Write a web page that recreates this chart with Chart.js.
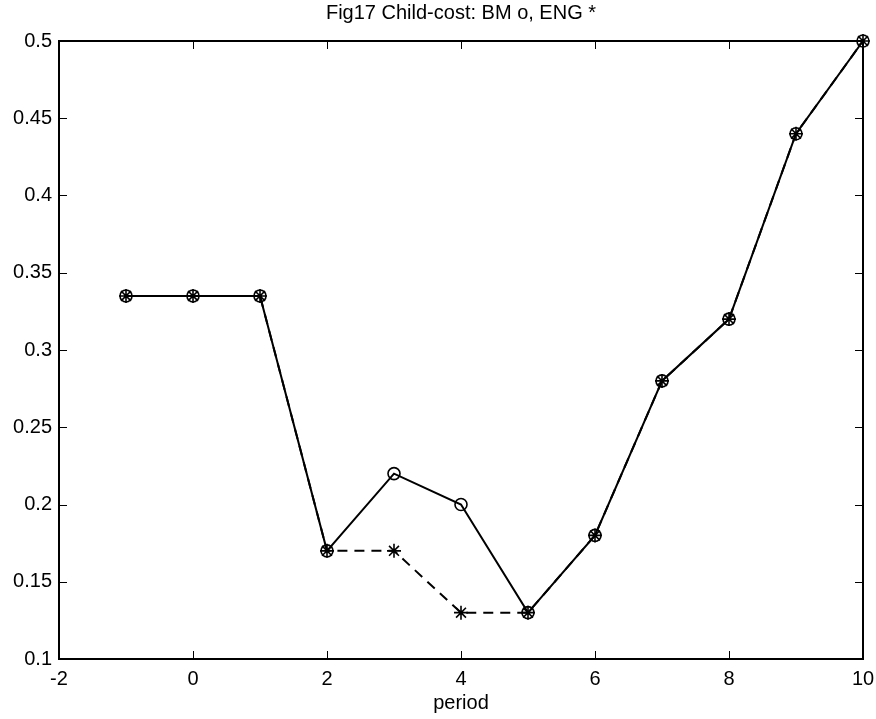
<!DOCTYPE html>
<html>
<head>
<meta charset="utf-8">
<script src="https://cdn.jsdelivr.net/npm/chart.js@4.4.0/dist/chart.umd.min.js"></script>
<style>
html,body{margin:0;padding:0;background:#fff;}
#wrap{width:876px;height:719px;position:relative;}
</style>
</head>
<body>
<div id="wrap"><canvas id="c" width="876" height="719"></canvas></div>
<script>
const periods = [-1, 0, 1, 2, 3, 4, 5, 6, 7, 8, 9, 10];
const bmValues = [0.335, 0.335, 0.335, 0.17, 0.22, 0.20, 0.13, 0.18, 0.28, 0.32, 0.44, 0.50];
const engValues = [0.335, 0.335, 0.335, 0.17, 0.17, 0.13, 0.13, 0.18, 0.28, 0.32, 0.44, 0.50];
const xTicks = [-2, 0, 2, 4, 6, 8, 10];
const yTicks = [0.1, 0.15, 0.2, 0.25, 0.3, 0.35, 0.4, 0.45, 0.5];
const titleText = 'Fig17 Child-cost: BM o, ENG *';
const xLabel = 'period';

const FONT = '"Liberation Sans", Arial, Helvetica, sans-serif';

const framePlugin = {
  id: 'frame',
  afterDraw(chart) {
    const ctx = chart.ctx, a = chart.chartArea;
    const xs = chart.scales.x, ys = chart.scales.y;
    ctx.save();
    ctx.strokeStyle = '#000';
    ctx.lineWidth = 1;
    const tl = 8;
    ctx.beginPath();
    xTicks.forEach(v => {
      const px = Math.round(xs.getPixelForValue(v)) + 0.5;
      ctx.moveTo(px, a.bottom); ctx.lineTo(px, a.bottom - tl);
      ctx.moveTo(px, a.top); ctx.lineTo(px, a.top + tl);
    });
    yTicks.forEach(v => {
      const py = Math.round(ys.getPixelForValue(v)) + 0.5;
      ctx.moveTo(a.left, py); ctx.lineTo(a.left + tl, py);
      ctx.moveTo(a.right, py); ctx.lineTo(a.right - tl, py);
    });
    ctx.stroke();
    ctx.lineWidth = 2;
    ctx.strokeRect(a.left, a.top, a.right - a.left, a.bottom - a.top);
    ctx.fillStyle = '#000';
    ctx.font = '20px ' + FONT;
    ctx.textAlign = 'center';
    ctx.textBaseline = 'middle';
    ctx.fillText(titleText, (a.left + a.right) / 2, 13);
    ctx.restore();
  }
};

new Chart(document.getElementById('c'), {
  type: 'line',
  data: {
    datasets: [
      {
        label: 'ENG',
        data: periods.map((p, i) => ({x: p, y: engValues[i]})),
        borderColor: '#000',
        backgroundColor: 'transparent',
        borderWidth: 2,
        borderDash: [10, 7],
        pointStyle: 'star',
        pointRadius: 7,
        pointBorderWidth: 1.6,
        pointBorderColor: '#000',
        tension: 0
      },
      {
        label: 'BM',
        data: periods.map((p, i) => ({x: p, y: bmValues[i]})),
        borderColor: '#000',
        backgroundColor: 'transparent',
        borderWidth: 2,
        pointStyle: 'circle',
        pointRadius: 6,
        pointBorderWidth: 1.6,
        pointBorderColor: '#000',
        pointBackgroundColor: 'transparent',
        tension: 0
      }
    ]
  },
  options: {
    responsive: false,
    animation: false,
    clip: false,
    layout: {padding: {top: 41, right: 13, left: 0, bottom: 0}},
    plugins: {
      legend: {display: false},
      title: {display: false},
      tooltip: {enabled: false}
    },
    scales: {
      x: {
        type: 'linear',
        min: -2, max: 10,
        afterBuildTicks(s) { s.ticks = xTicks.map(v => ({value: v})); },
        afterFit(s) { s.height = 60; s.paddingLeft = 0; s.paddingRight = 0; },
        grid: {display: false, drawTicks: false},
        border: {display: false},
        ticks: {
          color: '#000', padding: 8,
          font: {family: FONT, size: 20},
          maxRotation: 0, autoSkip: false,
          callback: v => String(v)
        },
        title: {
          display: true, text: xLabel, color: '#000',
          font: {family: FONT, size: 20},
          padding: {top: 0, bottom: 4}
        }
      },
      y: {
        type: 'linear',
        min: 0.1, max: 0.5,
        afterBuildTicks(s) { s.ticks = yTicks.map(v => ({value: v})); },
        afterFit(s) { s.width = 59; s.paddingTop = 0; s.paddingBottom = 0; },
        grid: {display: false, drawTicks: false},
        border: {display: false},
        ticks: {
          color: '#000', padding: 7,
          font: {family: FONT, size: 20},
          autoSkip: false,
          callback: v => String(Number(v.toFixed(2)))
        }
      }
    }
  },
  plugins: [framePlugin]
});
</script>
</body>
</html>
